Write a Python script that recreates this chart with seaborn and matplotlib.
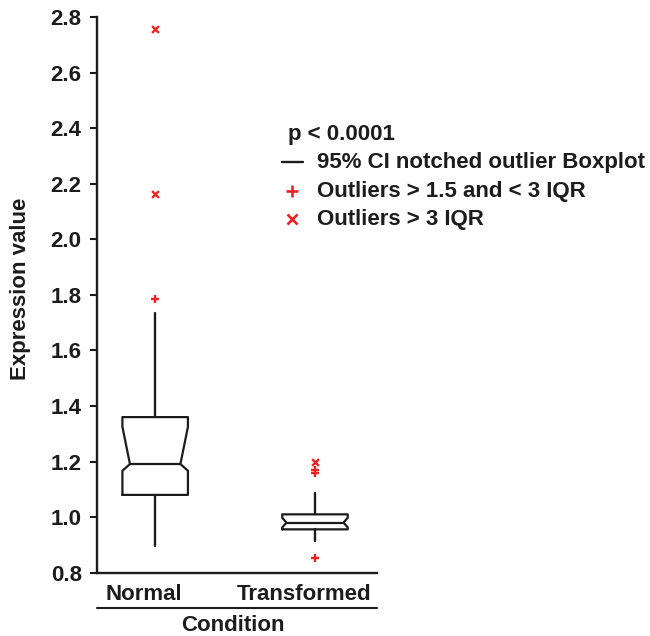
import numpy as np
import pandas as pd
import matplotlib
matplotlib.use("Agg")
import matplotlib.pyplot as plt
import matplotlib.transforms as mtransforms
import seaborn as sns
from matplotlib.lines import Line2D

# ---------------- data ----------------
categories = ["Normal", "Transformed"]
whisker_low = [0.896, 0.915]
q1 = [1.080, 0.956]
median = [1.191, 0.980]
q3 = [1.360, 1.010]
whisker_high = [1.734, 1.086]
ci_low = [1.167, 0.963]
ci_high = [1.325, 0.998]

mild_cat = ["Normal", "Transformed", "Transformed", "Transformed"]
mild_val = [1.785, 1.170, 1.158, 0.852]
extreme_cat = ["Normal", "Normal", "Transformed"]
extreme_val = [2.163, 2.757, 1.200]

yticks = [0.8, 1.0, 1.2, 1.4, 1.6, 1.8, 2.0, 2.2, 2.4, 2.6, 2.8]
legend_title = "p < 0.0001"
legend_labels = ["95% CI notched outlier Boxplot",
                 "Outliers > 1.5 and < 3 IQR",
                 "Outliers > 3 IQR"]

# ---------------- style ----------------
sns.set_style("ticks")
plt.rcParams["font.family"] = ["Liberation Sans", "DejaVu Sans"]
plt.rcParams["font.weight"] = "bold"
plt.rcParams["axes.labelweight"] = "bold"
FS = 16
DARK = "#1c1c1c"
RED = "#ee2222"

W, H = 650, 636
fig = plt.figure(figsize=(W / 100, H / 100), dpi=100)
ax_l, ax_r, ax_t, ax_b = 97, 377, 17, 572.7
ax = fig.add_axes([ax_l / W, 1 - ax_b / H, (ax_r - ax_l) / W, (ax_b - ax_t) / H])

positions = list(range(len(categories)))
box_width = 0.41
stats = []
for i, c in enumerate(categories):
    stats.append(dict(label=c, med=median[i], q1=q1[i], q3=q3[i],
                      whislo=whisker_low[i], whishi=whisker_high[i],
                      cilo=ci_low[i], cihi=ci_high[i], fliers=[]))

res = ax.bxp(stats, positions=positions, widths=box_width, shownotches=True,
             showcaps=False, showfliers=False, patch_artist=False,
             boxprops=dict(color=DARK, linewidth=1.6),
             whiskerprops=dict(color=DARK, linewidth=1.7),
             medianprops=dict(color=DARK, linewidth=1.6))

# notch depth (notch half-width as a fraction of box width)
notch_half = [0.385, 0.435]
for i, (box, med) in enumerate(zip(res["boxes"], res["medians"])):
    pos = positions[i]
    xd = np.array(box.get_xdata(), dtype=float)
    for k in range(len(xd)):
        if abs(abs(xd[k] - pos) - box_width * 0.25) < 1e-9:
            xd[k] = pos + np.sign(xd[k] - pos) * box_width * notch_half[i]
    box.set_xdata(xd)
    med.set_xdata([pos - box_width * notch_half[i], pos + box_width * notch_half[i]])

# outliers
cat_pos = {c: i for i, c in enumerate(categories)}
mild_df = pd.DataFrame({"x": [cat_pos[c] for c in mild_cat], "y": mild_val})
ext_df = pd.DataFrame({"x": [cat_pos[c] for c in extreme_cat], "y": extreme_val})
sns.scatterplot(data=mild_df, x="x", y="y", marker="+", color=RED, s=34,
                linewidth=1.7, ax=ax, legend=False, zorder=5)
sns.scatterplot(data=ext_df, x="x", y="y", marker="x", color=RED, s=24,
                linewidth=1.7, ax=ax, legend=False, zorder=5)

# axes
ax.set_xlim(-0.364, 1.388)
ax.set_ylim(0.8, 2.8)
ax.set_yticks(yticks)
ax.set_yticklabels([f"{v:.1f}" for v in yticks])
ax.set_xticks(positions)
ax.set_xticklabels(categories)
ax.tick_params(axis="y", length=5, width=1.5, pad=6, labelsize=FS, colors=DARK)
ax.tick_params(axis="x", length=0, pad=8, labelsize=FS, colors=DARK)
shift = mtransforms.ScaledTranslation(-11 / 100, 0, fig.dpi_scale_trans)
for lab in ax.get_xticklabels():
    lab.set_transform(lab.get_transform() + shift)
for s in ["top", "right"]:
    ax.spines[s].set_visible(False)
for s in ["left", "bottom"]:
    ax.spines[s].set_linewidth(1.7)
    ax.spines[s].set_color(DARK)

ax.set_xlabel("Condition", fontsize=FS, color=DARK)
ax.set_ylabel("Expression value", fontsize=FS, color=DARK)
ax.xaxis.set_label_coords(0.485, -0.076)
ax.yaxis.set_label_coords(-0.235, 0.51)

# line under category labels
yline = (ax_b - 608) / (ax_b - ax_t)
ax.plot([0, 1], [yline, yline], transform=ax.transAxes, color=DARK,
        linewidth=1.5, clip_on=False)

# legend-like annotation block
def fx(px):
    return px / W

def fy(py):
    return 1 - py / H

fig.text(fx(288), fy(134), legend_title, fontsize=FS, color=DARK, va="center", ha="left")
rows_y = [162, 191, 219]
fig.add_artist(Line2D([fx(282), fx(303)], [fy(162), fy(162)], color=DARK,
                      linewidth=1.7, transform=fig.transFigure))
fig.add_artist(Line2D([fx(292)], [fy(191)], marker="+", markersize=8,
                      markeredgewidth=1.9, color=RED, linestyle="none",
                      transform=fig.transFigure))
fig.add_artist(Line2D([fx(292)], [fy(219)], marker="x", markersize=7,
                      markeredgewidth=1.9, color=RED, linestyle="none",
                      transform=fig.transFigure))
for lab, yy in zip(legend_labels, rows_y):
    fig.text(fx(317), fy(yy), lab, fontsize=FS, color=DARK, va="center", ha="left")

fig.savefig("out.png", dpi=100)
